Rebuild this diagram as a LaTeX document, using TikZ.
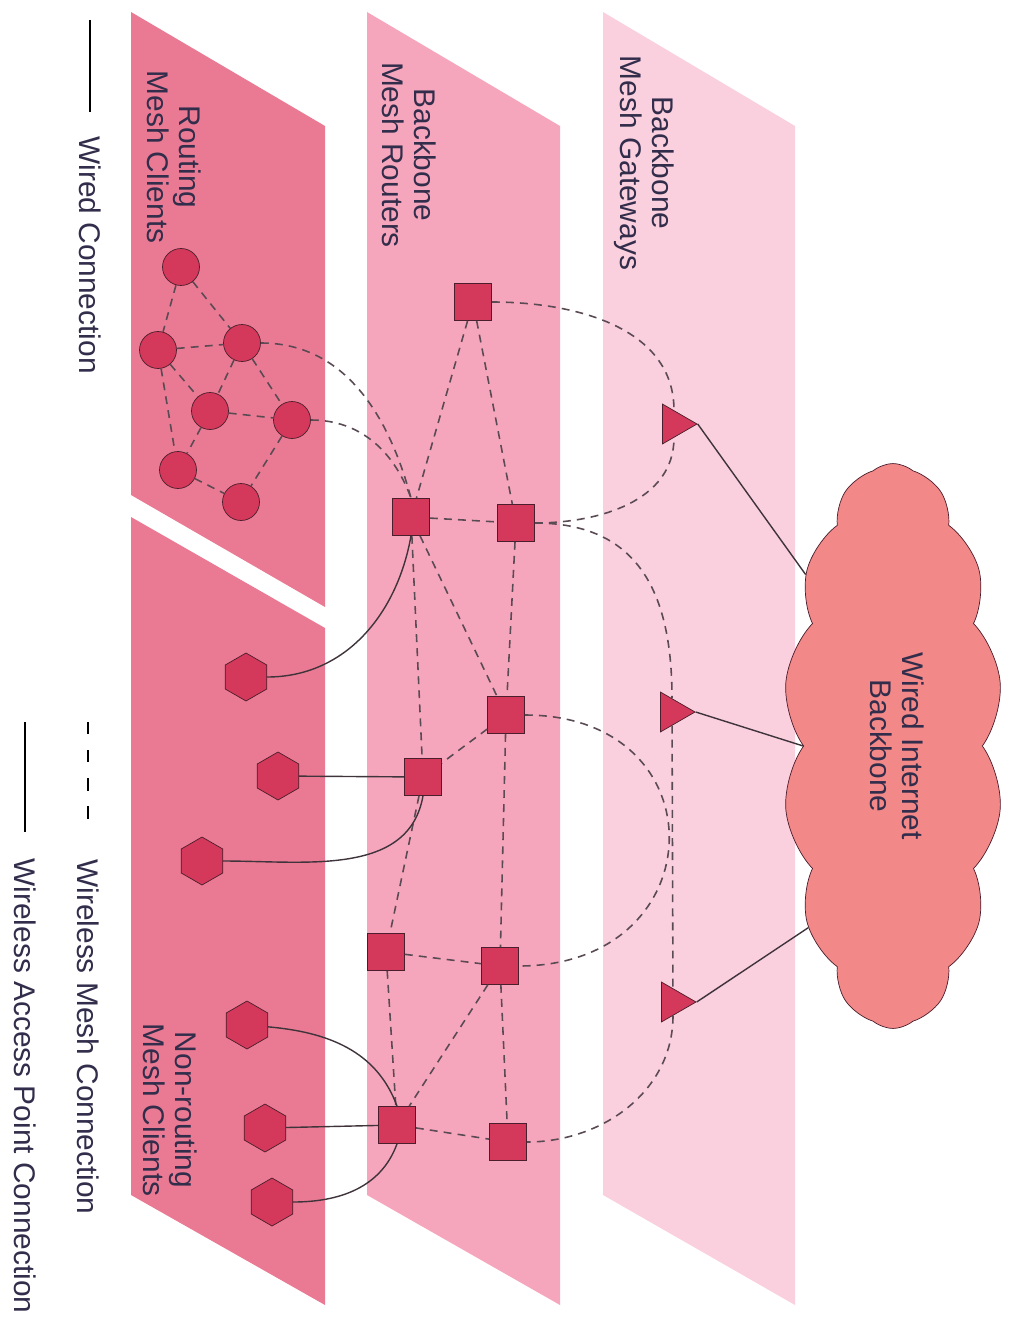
\documentclass[tikz,border=0pt]{standalone}
\usepackage{fontspec}
\setmainfont{Liberation Sans}
\usepackage{graphicx}
\usetikzlibrary{shapes.geometric,shapes.symbols}

\definecolor{clientpink}{RGB}{234,122,147}
\definecolor{routerpink}{RGB}{246,166,188}
\definecolor{gatepink}{RGB}{250,207,222}
\definecolor{nodered}{RGB}{212,56,90}
\definecolor{nodeline}{RGB}{74,30,44}
\definecolor{cloudred}{RGB}{242,136,136}
\definecolor{linkgray}{RGB}{90,74,84}
\definecolor{labelink}{RGB}{50,45,75}

\tikzset{
  client/.style={circle, draw=nodeline, fill=nodered, minimum size=0.74cm, inner sep=0pt},
  router/.style={rectangle, draw=nodeline, fill=nodered, minimum size=0.74cm, inner sep=0pt},
  gate/.style={regular polygon, regular polygon sides=3, shape border rotate=-90, draw=nodeline, fill=nodered, minimum size=0.92cm, inner sep=0pt},
  host/.style={regular polygon, regular polygon sides=6, shape border rotate=30, draw=nodeline, fill=nodered, minimum size=0.96cm, inner sep=0pt},
  mesh/.style={linkgray, line width=0.9pt, dash pattern=on 4.5pt off 3.5pt},
  wire/.style={linkgray!70!black, line width=0.8pt},
  tag/.style={rotate=-90, align=center, text=labelink, font=\fontsize{17}{18.5}\selectfont}
}

\begin{document}
\begin{tikzpicture}[x=0.02cm, y=-0.02cm]
\useasboundingbox (0,0) rectangle (1011,1324);

\fill[clientpink] (131,12) -- (325,126) -- (325,607) -- (131,495) -- cycle;
\fill[clientpink] (131,517) -- (325,628) -- (325,1305) -- (131,1195) -- cycle;
\fill[routerpink] (367,12) -- (560,126) -- (560,1305) -- (367,1195) -- cycle;
\fill[gatepink] (603,12) -- (795,126) -- (795,1305) -- (603,1195) -- cycle;

\node[tag] (rclab) at (174,157) {Routing\\Mesh Clients};
\node[tag] (rtlab) at (409,155) {Backbone\\Mesh Routers};
\node[tag] (gwlab) at (644,163) {Backbone\\Mesh Gateways};
\node[tag] (nclab) at (170,1110) {Non-routing\\Mesh Clients};

\node[client] (c1) at (181,267) {};
\node[client] (c2) at (158,350) {};
\node[client] (c3) at (242,343) {};
\node[client] (c4) at (210,411) {};
\node[client] (c5) at (292,420) {};
\node[client] (c6) at (178,470) {};
\node[client] (c7) at (241,502) {};

\node[router] (r1) at (473,302) {};
\node[router] (r2) at (411,517) {};
\node[router] (r3) at (516,523) {};
\node[router] (r4) at (506,715) {};
\node[router] (r5) at (423,777) {};
\node[router] (r6) at (386,952) {};
\node[router] (r7) at (500,966) {};
\node[router] (r8) at (397,1125) {};
\node[router] (r9) at (508,1142) {};

\node[gate] (g1) at (674,424) {};
\node[gate] (g2) at (672,712) {};
\node[gate] (g3) at (673,1002) {};

\node[host] (h1) at (246,677) {};
\node[host] (h2) at (278,776) {};
\node[host] (h3) at (202,861) {};
\node[host] (h4) at (247,1025) {};
\node[host] (h5) at (265,1128) {};
\node[host] (h6) at (272,1202) {};

\node[cloud, cloud puffs=14, cloud puff arc=80, cloud ignores aspect, draw=nodeline, fill=cloudred, minimum width=4.4cm, minimum height=11.3cm, inner sep=0pt, text=labelink, font=\fontsize{17}{18.5}\selectfont] (inet) at (893,746) {\rotatebox{-90}{\begin{tabular}{@{}c@{}}Wired Internet\\Backbone\end{tabular}}};

\draw[mesh] (c1) -- (c2) (c1) -- (c3) (c2) -- (c3) (c2) -- (c4) (c2) -- (c6) (c3) -- (c4);
\draw[mesh] (c3) -- (c5) (c4) -- (c5) (c4) -- (c6) (c5) -- (c7) (c6) -- (c7);
\draw[mesh] (c3) to[out=0, in=105] (r2.north);
\draw[mesh] (c5) to[out=0, in=110] (r2.north);

\draw[mesh] (r1) -- (r2) (r1) -- (r3) (r2) -- (r3) (r2) -- (r4) (r2) -- (r5) (r3) -- (r4) (r4) -- (r5);
\draw[mesh] (r4) -- (r7) (r5) -- (r6) (r6) -- (r7) (r6) -- (r8) (r7) -- (r8) (r7) -- (r9) (r8) -- (r9);

\draw[mesh] (r1) to[out=0, in=90] (g1.north);
\draw[mesh] (r3) to[out=0, in=-90] (g1.south);
\draw[mesh] (r3) to[out=0, in=90, looseness=1.2] (g2.north);
\draw[mesh] (g2) -- (g3);
\draw[mesh] (r4) to[out=0, in=0, looseness=2] (r7);
\draw[mesh] (g3.south) to[out=-90, in=0] (r9);

\draw[wire] (h1) to[out=0, in=-100] (r2.south);
\draw[wire] (h2) -- (r5);
\draw[wire] (h3) to[out=0, in=-100] (r5.south);
\draw[wire] (h4) to[out=-5, in=110] (r8.north);
\draw[wire] (h5) -- (r8);
\draw[wire] (h6) to[out=0, in=-110] (r8.south);

\draw[wire] (g1.east) -- (inet.117);
\draw[wire] (g2.east) -- (inet.180);
\draw[wire] (g3.east) -- (inet.245);

\coordinate (wa) at (90,20);
\coordinate (wb) at (90,112);
\draw[black, line width=1.1pt] (wa) -- (wb);
\node[tag] (wiredkey) at (90,255) {Wired Connection};

\coordinate (ma) at (88,722);
\coordinate (mb) at (88,832);
\draw[black, line width=1.3pt, dash pattern=on 7pt off 9pt] (ma) -- (mb);
\node[tag] (meshkey) at (88,1037) {Wireless Mesh Connection};

\coordinate (aa) at (25,722);
\coordinate (ab) at (25,832);
\draw[black, line width=1.1pt] (aa) -- (ab);
\node[tag] (apkey) at (25,1086) {Wireless Access Point Connection};
\end{tikzpicture}
\end{document}
